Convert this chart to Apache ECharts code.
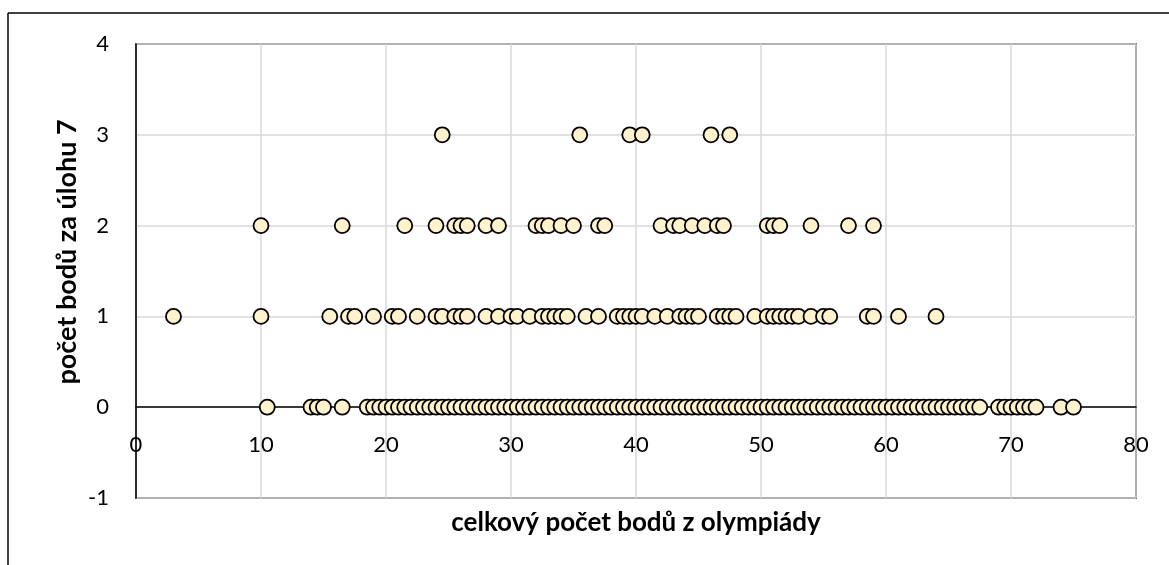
<!DOCTYPE html>
<html>
<head>
<meta charset="utf-8">
<script src="https://cdn.jsdelivr.net/npm/echarts@6/dist/echarts.min.js"></script>
<style>
html,body{margin:0;padding:0;background:#fff;}
#c{width:1169px;height:565px;}
</style>
</head>
<body>
<div id="c"></div>
<script>
// Data
const xTitle = "celkový počet bodů z olympiády";
const yTitle = "počet bodů za úlohu 7";
const xTicks = [0, 10, 20, 30, 40, 50, 60, 70, 80];
const yTicks = [-1, 0, 1, 2, 3, 4];

const totalsScore3 = [24.5, 35.5, 39.5, 40.5, 46, 47.5];
const totalsScore2 = [10, 16.5, 21.5, 24, 25.5, 26, 26.5, 28, 29, 32, 32.5, 33, 34, 35, 37, 37.5,
  42, 43, 43.5, 44.5, 45.5, 46.5, 47, 50.5, 51, 51.5, 54, 57, 59];
const totalsScore1 = [3, 10, 15.5, 17, 17.5, 19, 20.5, 21, 22.5, 24, 24.5, 25.5, 26, 26.5, 28, 29,
  30, 30.5, 31.5, 32.5, 33, 33.5, 34, 34.5, 36, 37, 38.5, 39, 39.5, 40, 40.5, 41.5, 42.5, 43.5, 44,
  44.5, 45, 46.5, 47, 47.5, 48, 49.5, 50.5, 51, 51.5, 52, 52.5, 53, 54, 55, 55.5, 58.5, 59, 61, 64];
const totalsScore0 = [10.5, 14, 14.5, 15, 16.5, 18.5, 19, 19.5, 20, 20.5, 21, 21.5, 22, 22.5, 23,
  23.5, 24, 24.5, 25, 25.5, 26, 26.5, 27, 27.5, 28, 28.5, 29, 29.5, 30, 30.5, 31, 31.5, 32, 32.5,
  33, 33.5, 34, 34.5, 35, 35.5, 36, 36.5, 37, 37.5, 38, 38.5, 39, 39.5, 40, 40.5, 41, 41.5, 42, 42.5,
  43, 43.5, 44, 44.5, 45, 45.5, 46, 46.5, 47, 47.5, 48, 48.5, 49, 49.5, 50, 50.5, 51, 51.5, 52, 52.5,
  53, 53.5, 54, 54.5, 55, 55.5, 56, 56.5, 57, 57.5, 58, 58.5, 59, 59.5, 60, 60.5, 61, 61.5, 62, 62.5,
  63, 63.5, 64, 64.5, 65, 65.5, 66, 66.5, 67, 67.5, 69, 69.5, 70, 70.5, 71, 71.5, 72, 74, 75];

const groups = [[0, totalsScore0], [1, totalsScore1], [2, totalsScore2], [3, totalsScore3]];
const points = [];
groups.forEach(([y, xs]) => xs.forEach(x => points.push([x, y])));

const FONT = 'Lato';
const TOP = 44, BOTTOM = 67, H = 565;
const plotH = H - TOP - BOTTOM;
const unitH = plotH / (yTicks[yTicks.length - 1] - yTicks[0]);
// x axis crosses at y = 0
const crossOffset = -(0 - yTicks[0]) * unitH;

const chart = echarts.init(document.getElementById('c'), null, {renderer: 'canvas'});
chart.setOption({
  animation: false,
  backgroundColor: '#fff',
  grid: {left: 136, right: 33, top: TOP, bottom: BOTTOM, show: true, borderColor: '#000', borderWidth: 1.5, backgroundColor: 'transparent'},
  xAxis: {
    type: 'value', min: xTicks[0], max: xTicks[xTicks.length - 1], interval: 10,
    position: 'bottom', offset: crossOffset,
    axisLine: {show: true, onZero: false, lineStyle: {color: '#000', width: 1.5}},
    axisTick: {show: false},
    axisLabel: {color: '#000', fontFamily: FONT, fontSize: 22, margin: 27},
    splitLine: {show: true, lineStyle: {color: '#d9d9d9', width: 1.5}}
  },
  yAxis: {
    type: 'value', min: yTicks[0], max: yTicks[yTicks.length - 1], interval: 1,
    axisLine: {show: true, onZero: false, lineStyle: {color: '#000', width: 1.5}},
    axisTick: {show: false},
    axisLabel: {color: '#000', fontFamily: FONT, fontSize: 22, margin: 27},
    splitLine: {show: true, lineStyle: {color: '#d9d9d9', width: 1.5}}
  },
  graphic: [
    {type: 'line', shape: {x1: 8, y1: 13, x2: 1169, y2: 13}, style: {stroke: '#000', lineWidth: 1.5}},
    {type: 'line', shape: {x1: 8, y1: 13, x2: 8, y2: 565}, style: {stroke: '#000', lineWidth: 1.5}},
    {type: 'text', position: [636, 523], style: {text: xTitle, font: 'bold 26px ' + FONT, fill: '#000', textAlign: 'center', textVerticalAlign: 'middle'}},
    {type: 'text', rotation: Math.PI / 2, position: [67, 252], style: {text: yTitle, font: 'bold 27px ' + FONT, fill: '#000', textAlign: 'center', textVerticalAlign: 'middle'}}
  ],
  series: [{
    type: 'scatter',
    data: points,
    symbol: 'circle',
    symbolSize: 15,
    itemStyle: {color: '#FFF2CC', borderColor: '#000', borderWidth: 1.8, opacity: 1},
    z: 5
  }]
});
</script>
</body>
</html>
